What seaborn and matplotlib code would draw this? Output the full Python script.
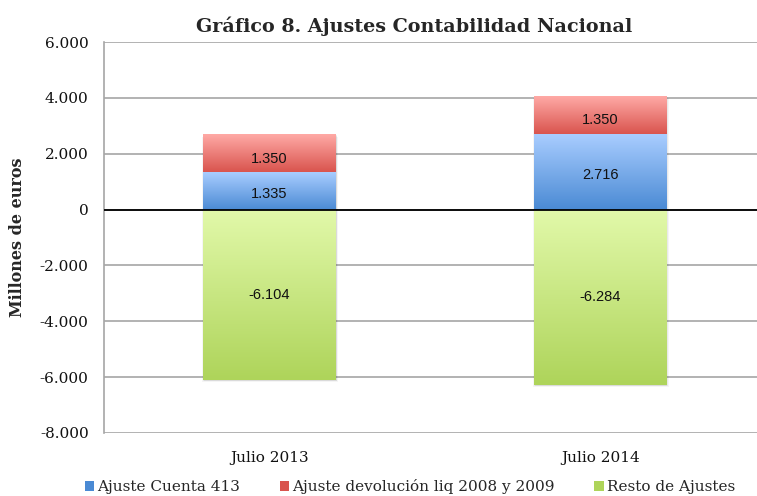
import numpy as np
import pandas as pd
import matplotlib
matplotlib.use("Agg")
import matplotlib.pyplot as plt
import seaborn as sns
from matplotlib.colors import LinearSegmentedColormap
from matplotlib.patches import Patch
from matplotlib.ticker import FuncFormatter, MultipleLocator

categories = ["Julio 2013", "Julio 2014"]
cuenta413 = [1335, 2716]
devolucion = [1350, 1350]
resto = [-6104, -6284]
series_names = ["Ajuste Cuenta 413", "Ajuste devolución liq 2008 y 2009", "Resto de Ajustes"]
value_labels_cuenta = ["1.335", "2.716"]
value_labels_dev = ["1.350", "1.350"]
value_labels_resto = ["-6.104", "-6.284"]

sns.set_theme(style="white")
serif = ["DejaVu Serif", "Liberation Serif"]
plt.rcParams["font.family"] = serif

fig = plt.figure(figsize=(7.57, 4.96), dpi=100)
ax = fig.add_axes([104 / 757, 63 / 496, 1 - 104 / 757, (433 - 42) / 496])

df = pd.DataFrame({"cat": categories, "c413": cuenta413, "dev": devolucion, "resto": resto})
bw = 0.40
grads = {
    "c413": ("#4a8ad4", "#a9cdff"),
    "dev": ("#d9544e", "#ffaaa6"),
    "resto": ("#aed45a", "#e2f9aa"),
}

sns.barplot(data=df, x="cat", y="resto", color="#c8e68a", width=bw, ax=ax, saturation=1)
sns.barplot(data=df, x="cat", y="c413", color="#7aaae8", width=bw, ax=ax, saturation=1)
sns.barplot(data=df, x="cat", y="dev", color="#f08080", width=bw, ax=ax, saturation=1,
            bottom=np.array(cuenta413))

keys = ["resto", "resto", "c413", "c413", "dev", "dev"]
patches = list(ax.patches)
for p, k in zip(patches, keys):
    x0, y0 = p.get_x(), p.get_y()
    w, h = p.get_width(), p.get_height()
    ylo, yhi = min(y0, y0 + h), max(y0, y0 + h)
    bot, top = grads[k]
    cmap = LinearSegmentedColormap.from_list(k, [bot, top])
    grad = np.linspace(1, 0, 256).reshape(-1, 1)
    p.set_linewidth(0)
    p.set_edgecolor("none")
    p.set_zorder(2.4)
    # soft shadow
    for j, a in enumerate([0.06, 0.05, 0.04]):
        d = (j + 1) * 0.0025
        ax.add_patch(plt.Rectangle((x0 - d + 0.004, ylo - 25 * (j + 1)), w + 2 * d - 0.004,
                                   yhi - ylo, color="#000000", alpha=a, zorder=1.5, lw=0))
    ax.imshow(grad, cmap=cmap, extent=[x0, x0 + w, ylo, yhi], aspect="auto",
              zorder=2.5, vmin=0, vmax=1, interpolation="bicubic")

ax.set_xlim(-0.5, 1.473)
ax.set_ylim(-8000, 6000)

lab_font = ["Liberation Sans", "DejaVu Sans"]
for i in range(2):
    ax.text(i, cuenta413[i] / 2 - 120, value_labels_cuenta[i], ha="center", va="center",
            fontsize=10.5, family=lab_font, zorder=5, color="#111111")
    ax.text(i, cuenta413[i] + devolucion[i] / 2 - 200, value_labels_dev[i], ha="center",
            va="center", fontsize=10.5, family=lab_font, zorder=5, color="#111111")
    ax.text(i, resto[i] / 2, value_labels_resto[i], ha="center", va="center",
            fontsize=10.5, family=lab_font, zorder=5, color="#111111")

ax.yaxis.set_major_locator(MultipleLocator(2000))
ax.yaxis.set_major_formatter(FuncFormatter(lambda v, p: f"{v:,.0f}".replace(",", ".")))
ax.grid(axis="y", color="#a6a6a6", lw=1.2, zorder=0)
ax.set_axisbelow(True)
ax.axhline(0, color="#000000", lw=1.3, zorder=3)
for s in ["top", "right", "bottom"]:
    ax.spines[s].set_visible(False)
ax.spines["left"].set_color("#a6a6a6")
ax.spines["left"].set_linewidth(1.2)
ax.tick_params(axis="both", length=0, labelsize=11, colors="#111111")
ax.tick_params(axis="y", pad=11)
ax.tick_params(axis="x", pad=13)
ax.set_xlabel("")
ax.set_ylabel("Millones de euros", fontsize=11.5, fontweight="bold", labelpad=10)

fig.text(414 / 757, 1 - 26 / 496, "Gráfico 8. Ajustes Contabilidad Nacional", ha="center",
         va="center", fontsize=13.8, fontweight="bold")

handles = [Patch(facecolor=grads[k][0], edgecolor="none") for k in ["c413", "dev", "resto"]]
fig.legend(handles, series_names, loc="center", bbox_to_anchor=(410 / 757, 1 - 487 / 496),
           ncol=3, frameon=False, fontsize=11, handlelength=0.6, handleheight=0.6,
           handletextpad=0.2, columnspacing=2.6, borderpad=0)

fig.savefig("out.png", dpi=100)
